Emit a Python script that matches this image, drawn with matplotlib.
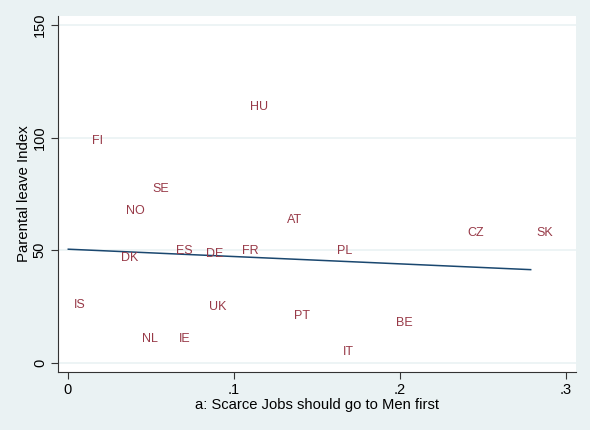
import numpy as np
import matplotlib
matplotlib.use("Agg")
import matplotlib.pyplot as plt

plt.rcParams['font.family'] = ['Liberation Sans', 'DejaVu Sans']

# Country codes with attitude share (x) and parental leave index (y)
countries = ["FI", "HU", "SE", "NO", "AT", "DK", "ES", "DE", "FR", "PL",
             "CZ", "SK", "IS", "UK", "PT", "BE", "NL", "IE", "IT"]
scarce_jobs_men = [0.0113, 0.1064, 0.0474, 0.0317, 0.1283, 0.0287, 0.0619, 0.0799,
                   0.1014, 0.1586, 0.2372, 0.2787, 0.0002, 0.0815, 0.1327, 0.1944,
                   0.0414, 0.0633, 0.1622]
leave_index = [98.4, 113.6, 77.2, 67.5, 63.3, 46.6, 49.6, 48.4, 49.6, 49.6,
               57.7, 57.7, 25.6, 24.5, 20.7, 17.7, 10.6, 10.6, 4.7]

x_ticks = [0, 0.1, 0.2, 0.3]
x_tick_labels = ["0", ".1", ".2", ".3"]
y_ticks = [0, 50, 100, 150]
y_tick_labels = ["0", "50", "100", "150"]

bg = "#eaf2f3"
label_color = "#983a48"
line_color = "#1a476f"

fig = plt.figure(figsize=(5.90, 4.30), dpi=100, facecolor=bg)
ax = fig.add_axes([58 / 590, (430 - 372) / 430, (576 - 58) / 590, (372 - 16) / 430])
ax.set_facecolor("white")

x = np.array(scarce_jobs_men)
y = np.array(leave_index)

# Country labels placed to the right of each (invisible) point
for name, xi, yi in zip(countries, x, y):
    ax.annotate(name, (xi, yi), xytext=(4.0, 0), textcoords="offset points",
                ha="left", va="center", fontsize=9, color=label_color)

# Linear fit across the observed range
slope, intercept = np.polyfit(x, y, 1)
xs = np.array([x.min(), x.max()])
ax.plot(xs, intercept + slope * xs, color=line_color, lw=1.1)

ax.set_xlim(-0.006, 0.306)
ax.set_ylim(-4.2, 154)

for yt in y_ticks:
    ax.axhline(yt, color=bg, lw=1.2, zorder=0)

ax.set_xticks(x_ticks)
ax.set_xticklabels(x_tick_labels, fontsize=10.5)
ax.set_yticks(y_ticks)
ax.set_yticklabels(y_tick_labels, fontsize=10.5, rotation=90, va="center")
ax.tick_params(axis="both", length=5, width=0.8, color="#333333", pad=3)

for side in ["top", "right"]:
    ax.spines[side].set_visible(False)
for side in ["left", "bottom"]:
    ax.spines[side].set_color("#333333")
    ax.spines[side].set_linewidth(0.8)

ax.set_xlabel("a: Scarce Jobs should go to Men first", fontsize=10.6, labelpad=1)
ax.set_ylabel("Parental leave Index", fontsize=10.8, labelpad=1)

fig.savefig("out.png", dpi=100, facecolor=bg)
